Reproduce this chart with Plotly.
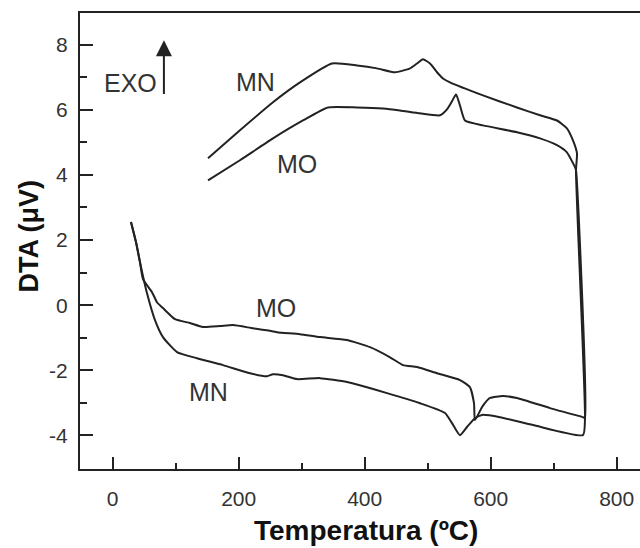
import plotly.graph_objects as go

# MO: heating (lower) -> vertical -> cooling (upper)
mo_T = [29, 37, 43.3, 48.1, 62.4, 70.3, 79.8, 98.9, 122.7, 143.3, 170.3, 191, 222.7, 245, 260.8,
        297.3, 329, 372, 408.4, 440.2, 460.8, 483, 514.8, 551.3, 567.1, 573.5, 575, 586.2, 598.9,
        619.5, 641.7, 694.1, 746.5, 749.7,
        735.4, 734, 730.6, 721, 705.2, 678.3, 641.7, 587.8, 559.2, 551.3, 545, 538.6, 530.6,
        519.5, 487.8, 456, 429, 387.8, 341.7, 302, 254.4, 202, 151.3]
mo_V = [2.55, 1.93, 1.32, 0.80, 0.40, 0.09, -0.09, -0.43, -0.55, -0.67, -0.64, -0.61, -0.71, -0.77, -0.83,
        -0.89, -0.98, -1.07, -1.29, -1.60, -1.84, -1.90, -2.09, -2.30, -2.52, -3.01, -3.53, -3.13, -2.85,
        -2.79, -2.85, -3.16, -3.44, -3.47,
        4.14, 4.23, 4.36, 4.69, 4.91, 5.12, 5.31, 5.52, 5.67, 6.13, 6.47, 6.26, 6.01,
        5.83, 5.89, 5.98, 6.04, 6.07, 6.07, 5.67, 5.12, 4.45, 3.83]

# MN: heating (lower) -> vertical -> cooling (upper)
mn_T = [29, 37, 43.3, 54.4, 67.1, 79.8, 102, 133.8, 175.1, 218, 245, 254.4, 270.3, 292.5, 329,
        372, 435.4, 487.8, 527.5, 538.6, 551.3, 562.4, 575, 586.2, 614.8, 667.1, 746.5, 749.7,
        735.4, 737, 730.6, 721, 705.2, 678.3, 641.7, 587.8, 535.4, 524.3, 514.8, 503.7, 492.5,
        483, 472, 448.1, 419.5, 387.8, 348.1, 297.3, 254.4, 202, 151.3]
mn_V = [2.55, 1.93, 1.32, 0.37, -0.46, -0.98, -1.44, -1.63, -1.84, -2.09, -2.18, -2.12, -2.15, -2.27, -2.24,
        -2.36, -2.70, -3.01, -3.31, -3.62, -3.99, -3.74, -3.47, -3.37, -3.44, -3.68, -3.99, -3.47,
        4.14, 4.66, 5.06, 5.43, 5.67, 5.83, 6.07, 6.44, 6.84, 6.96, 7.15, 7.42, 7.55,
        7.42, 7.27, 7.15, 7.27, 7.36, 7.42, 6.84, 6.23, 5.37, 4.51]

x_ticks = [0, 200, 400, 600, 800]
y_ticks = [-4, -2, 0, 2, 4, 6, 8]
y_tick_text = ["-4", "-2", "0", "2", "4", "6", "8"]

labels = [("EXO", 27.5, 6.81), ("MN", 226, 6.84), ("MO", 292.5, 4.33),
          ("MO", 259.5, -0.09), ("MN", 152.8, -2.68)]

LINE = "#222222"
TXT = "#333333"
FONT = "Liberation Sans, Arial, sans-serif"

fig = go.Figure()
fig.add_trace(go.Scatter(x=mn_T, y=mn_V, mode="lines", name="MN",
                         line=dict(color=LINE, width=2, shape="spline", smoothing=0.5)))
fig.add_trace(go.Scatter(x=mo_T, y=mo_V, mode="lines", name="MO",
                         line=dict(color=LINE, width=2, shape="spline", smoothing=0.5)))

for txt, x, y in labels:
    fig.add_annotation(x=x, y=y, text=txt, showarrow=False,
                       font=dict(family=FONT, size=25, color=TXT))

# EXO arrow
fig.add_annotation(x=81.3, y=8.13, ax=81.3, ay=6.44, axref="x", ayref="y",
                   xref="x", yref="y", text="", showarrow=True,
                   arrowhead=2, arrowsize=1.6, arrowwidth=2, arrowcolor=LINE)

# axis titles as annotations for positioning
fig.add_annotation(text="Temperatura (ºC)", xref="paper", yref="paper",
                   x=0.51, y=-0.135, xanchor="center", yanchor="middle", showarrow=False,
                   font=dict(family=FONT, size=28, color="#111111", weight="bold"))
fig.add_annotation(text="DTA (μV)", xref="paper", yref="paper",
                   x=-0.091, y=0.51, xanchor="center", yanchor="middle", showarrow=False,
                   textangle=-90,
                   font=dict(family=FONT, size=27, color="#111111", weight="bold"))

fig.update_layout(
    width=640, height=548,
    margin=dict(l=80, r=0, t=13, b=79),
    paper_bgcolor="white", plot_bgcolor="white",
    showlegend=False,
    font=dict(family=FONT, size=21, color=TXT),
)
fig.update_xaxes(range=[-51.9, 837], tickvals=x_ticks, ticks="inside", ticklen=12,
                 tickwidth=2, tickcolor=LINE, showline=True, linecolor=LINE, linewidth=2,
                 mirror=True, showgrid=False, zeroline=False, ticklabelstandoff=10,
                 tickfont=dict(size=21, color=TXT),
                 minor=dict(dtick=100, tick0=0, ticks="inside", ticklen=6, tickwidth=2,
                            tickcolor=LINE, showgrid=False))
fig.update_yaxes(range=[-5.03, 8.97], tickvals=y_ticks, ticktext=y_tick_text,
                 ticks="inside", ticklen=13,
                 tickwidth=2, tickcolor=LINE, showline=True, linecolor=LINE, linewidth=2,
                 mirror=False, showgrid=False, zeroline=False, ticklabelstandoff=6,
                 tickfont=dict(size=21, color=TXT),
                 minor=dict(dtick=1, tick0=0, ticks="inside", ticklen=7, tickwidth=2,
                            tickcolor=LINE, showgrid=False))

fig.write_html("out.html")
